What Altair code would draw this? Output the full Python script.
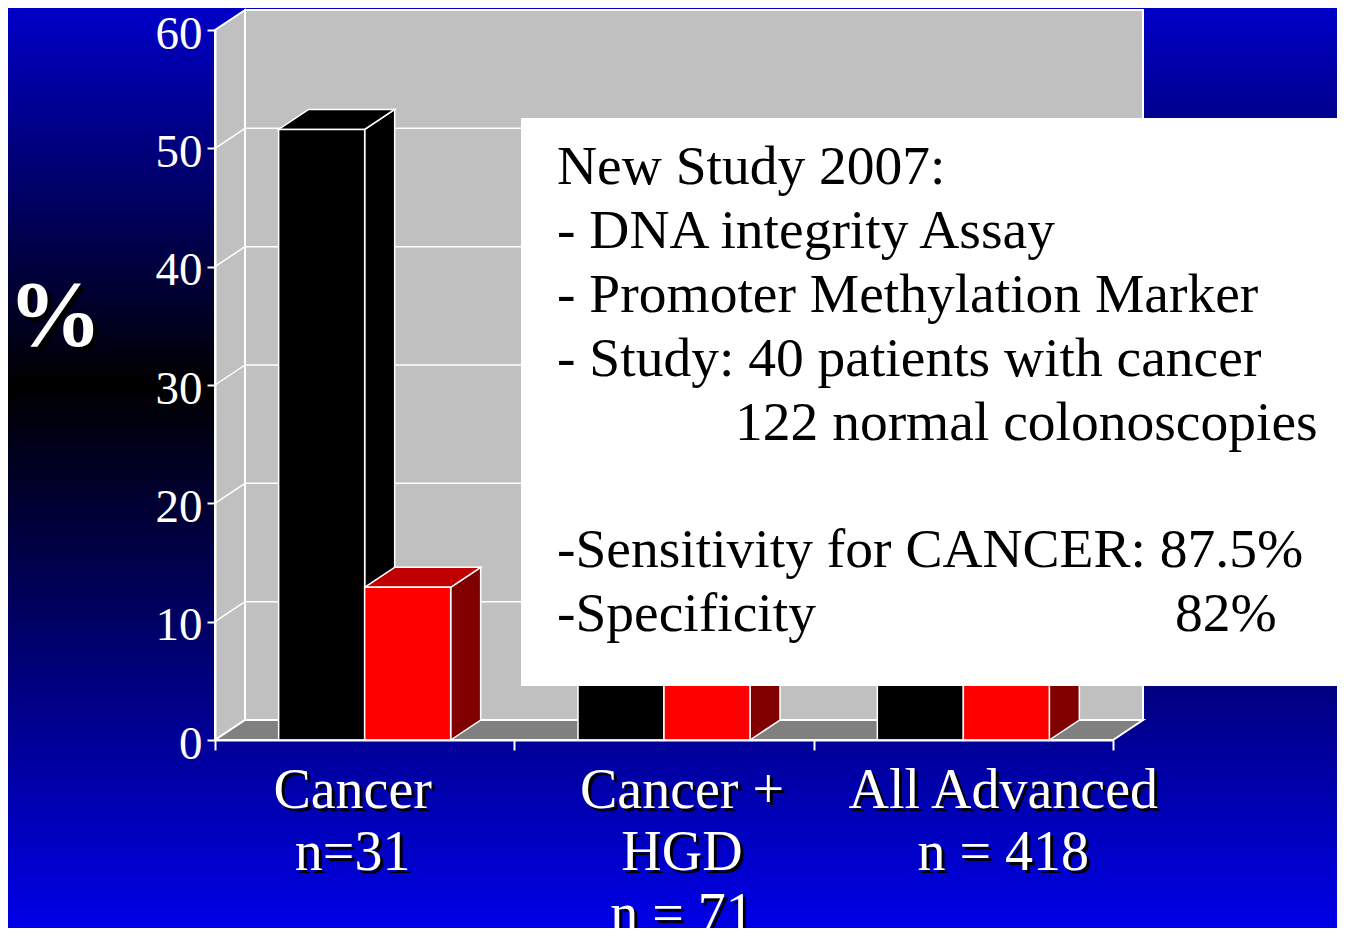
import altair as alt
import pandas as pd

# ---------------- data ----------------
CATEGORIES = ["Cancer", "Cancer + HGD", "All Advanced"]
CATEGORY_LABELS = [["Cancer", "n=31"], ["Cancer +", "HGD", "n = 71"], ["All Advanced", "n = 418"]]
SERIES = ["Fecal DNA panel", "Hemoccult II"]
DNA_VALUES = [51.6, 40.8, 18.2]
FOBT_VALUES = [12.9, 14.1, 10.8]
Y_TICKS = [0, 10, 20, 30, 40, 50, 60]
BOX_LINES = [
    "New Study 2007:",
    "- DNA integrity Assay",
    "- Promoter Methylation Marker",
    "- Study: 40 patients with cancer",
    "122 normal colonoscopies",
    "-Sensitivity for CANCER: 87.5%",
    "-Specificity",
    "82%",
]
Y_TITLE = "%"

# ---------------- layout / style ----------------
CHART_W, CHART_H = 1329, 920
PLOT_W, PLOT_H = 898, 710
PAD = {"left": 207, "top": 22, "right": CHART_W - 207 - PLOT_W, "bottom": CHART_H - 22 - PLOT_H}
N = len(CATEGORIES)
Y_MAX = 60
DX = 30 * N / PLOT_W          # depth offset (x) in data units
DY = 20 * Y_MAX / PLOT_H      # depth offset (y) in data units
BAR_W = 86 * N / PLOT_W       # width of one bar in data units
LABEL_SHIFT_PX = [-12, 18, 40]
BOX_LAYOUT = [  # x (px from plot left), baseline y (px from plot top)
    (342, 154), (342, 218), (342, 282), (342, 346), (520, 410),
    (342, 537), (342, 601), (960, 601),
]
FONT = "Liberation Serif"
FRONT = ["#000000", "#FF0000"]
TOP = ["#000000", "#C00000"]
SIDE = ["#000000", "#800000"]

xs = alt.Scale(domain=[0, N], nice=False, zero=False)
ys = alt.Scale(domain=[0, Y_MAX], nice=False, zero=False)
XAX = alt.Axis(values=list(range(N + 1)), labels=False, tickSize=10, tickWidth=2,
               tickColor="white", domainColor="white", domainWidth=2,
               grid=False, title="", zindex=2)
YAX = alt.Axis(values=Y_TICKS, tickSize=8, tickWidth=2, tickColor="white",
               domainColor="white", domainWidth=2, grid=False, title="",
               labelColor="white", labelFont=FONT, labelFontSize=47,
               labelPadding=5, labelOffset=4, labelOverlap=False, zindex=2)


def X(field):
    return alt.X(field, scale=xs, axis=XAX)


def Y(field):
    return alt.Y(field, scale=ys, axis=YAX)


# ---------------- tables ----------------
front, side, top = [], [], []
for i in range(N):
    for s, vals in enumerate([DNA_VALUES, FOBT_VALUES]):
        v = vals[i]
        xl = i + 0.5 - BAR_W + s * BAR_W
        xr = xl + BAR_W
        bid = f"{i}-{s}"
        front.append({"bar": bid, "series": SERIES[s], "xl": xl, "xr": xr, "y0": 0, "v": v})
        side.append({"bar": bid, "series": SERIES[s], "x": xr, "lo": 0, "hi": v})
        side.append({"bar": bid, "series": SERIES[s], "x": xr + DX, "lo": DY, "hi": v + DY})
        top.append({"bar": bid, "series": SERIES[s], "y": v, "xa": xl, "xb": xr})
        top.append({"bar": bid, "series": SERIES[s], "y": v + DY, "xa": xl + DX, "xb": xr + DX})
front, side, top = pd.DataFrame(front), pd.DataFrame(side), pd.DataFrame(top)

one = pd.DataFrame({"a": [0]})

# background gradient
bg = alt.Chart(one).mark_rect(
    color=alt.Gradient(
        gradient="linear", x1=0, x2=0, y1=0, y2=1,
        stops=[alt.GradientStop(color="#0000C8", offset=0),
               alt.GradientStop(color="#000000", offset=0.41),
               alt.GradientStop(color="#0000E8", offset=1)],
    )
).encode(x=alt.value(-PAD["left"]), x2=alt.value(PLOT_W + PAD["right"]),
         y=alt.value(-PAD["top"]), y2=alt.value(PLOT_H + PAD["bottom"]))

# walls
side_wall = alt.Chart(pd.DataFrame({"x": [0, DX], "lo": [0, DY], "hi": [Y_MAX, Y_MAX + DY]})).mark_area(
    color="#C0C0C0", stroke="white", strokeWidth=2
).encode(x=X("x:Q"), y=Y("lo:Q"), y2="hi:Q")

back_wall = alt.Chart(pd.DataFrame({"x": [DX], "x2": [N + DX], "y": [DY], "y2": [Y_MAX + DY]})).mark_rect(
    color="#C0C0C0", stroke="white", strokeWidth=2
).encode(x=X("x:Q"), x2="x2:Q", y=Y("y:Q"), y2="y2:Q")

floor = alt.Chart(pd.DataFrame({"y": [0, DY], "xa": [0, DX], "xb": [N, N + DX]})).mark_area(
    orient="horizontal", color="#808080", stroke="white", strokeWidth=2
).encode(y=Y("y:Q"), x=X("xa:Q"), x2="xb:Q")

grid_vals = [t for t in Y_TICKS if 0 < t < Y_MAX]
back_grid = alt.Chart(pd.DataFrame({"x": [DX] * len(grid_vals), "x2": [N + DX] * len(grid_vals),
                                    "y": [g + DY for g in grid_vals]})).mark_rule(
    color="white", strokeWidth=1.5
).encode(x=X("x:Q"), x2="x2:Q", y=Y("y:Q"))

side_grid = alt.Chart(pd.DataFrame({"x": [0] * len(grid_vals), "x2": [DX] * len(grid_vals),
                                    "y": grid_vals, "y2": [g + DY for g in grid_vals]})).mark_rule(
    color="white", strokeWidth=1.5
).encode(x=X("x:Q"), x2="x2:Q", y=Y("y:Q"), y2="y2:Q")

# bars
sides = alt.Chart(side).mark_area(stroke="white", strokeWidth=1.5, opacity=1).encode(
    x=X("x:Q"), y=Y("lo:Q"), y2="hi:Q",
    detail="bar:N",
    color=alt.Color("series:N", scale=alt.Scale(domain=SERIES, range=SIDE), legend=None),
)
tops = alt.Chart(top).mark_area(orient="horizontal", stroke="white", strokeWidth=1.5, opacity=1).encode(
    y=Y("y:Q"), x=X("xa:Q"), x2="xb:Q",
    detail="bar:N",
    color=alt.Color("series:N", scale=alt.Scale(domain=SERIES, range=TOP), legend=None),
)
fronts = alt.Chart(front).mark_rect(stroke="white", strokeWidth=1.5, opacity=1).encode(
    x=X("xl:Q"), x2="xr:Q",
    y=Y("y0:Q"), y2="v:Q",
    color=alt.Color("series:N", scale=alt.Scale(domain=SERIES, range=FRONT), legend=None),
)

# text box
box = alt.Chart(one).mark_rect(color="white").encode(
    x=alt.value(306), x2=alt.value(PLOT_W + PAD["right"] + 10), y=alt.value(88), y2=alt.value(656)
)
box_df = pd.DataFrame({"t": BOX_LINES, "px": [p[0] for p in BOX_LAYOUT], "py": [p[1] for p in BOX_LAYOUT]})
box_text = alt.Chart(box_df).mark_text(align="left", baseline="alphabetic", font=FONT, fontSize=55.5,
                                       color="black").encode(
    x=alt.X("px:Q", scale=None), y=alt.Y("py:Q", scale=None), text="t:N"
)

# category labels
lab_df = pd.DataFrame({"lab": CATEGORY_LABELS,
                       "x": [i + 0.5 + LABEL_SHIFT_PX[i] * N / PLOT_W for i in range(N)]})


def cat_labels(color, off):
    return alt.Chart(lab_df).mark_text(align="center", baseline="alphabetic", font=FONT, fontSize=56,
                                       lineHeight=62, color=color, dx=off, dy=off).encode(
        x=X("x:Q"), y=alt.value(778), text="lab"
    )


# y title "%"
pct_df = pd.DataFrame({"t": [Y_TITLE]})


def pct(color, off):
    return alt.Chart(pct_df).mark_text(align="center", baseline="alphabetic", font=FONT, fontSize=94,
                                       fontWeight="bold", color=color, dx=off, dy=off).encode(
        x=alt.value(-160), y=alt.value(315), text="t:N"
    )


chart = alt.layer(
    bg, side_wall, back_wall, floor, back_grid, side_grid, sides, tops, fronts,
    box, box_text,
    cat_labels("#000000", 3), cat_labels("white", 0),
    pct("#000000", 4), pct("white", 0),
).resolve_scale(color="independent").properties(
    width=PLOT_W, height=PLOT_H, padding=PAD, autosize=alt.AutoSizeParams(type="none"),
    background="#0000C8",
).configure_view(strokeWidth=0)

chart.save("out.html", embed_options={"renderer": "svg", "actions": False})
